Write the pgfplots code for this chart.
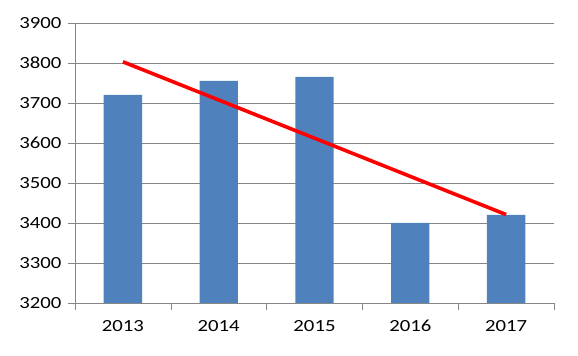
\documentclass[border=0pt]{standalone}
\usepackage{fontspec}
\setmainfont{Carlito}[FakeStretch=1.22]
\usepackage{pgfplots}
\pgfplotsset{compat=1.18}
\definecolor{barblue}{HTML}{4F81BD}
\definecolor{gridgray}{HTML}{868686}
\begin{document}
\begin{tikzpicture}
\begin{axis}[
  scale only axis,
  width=479bp, height=280bp,
  xmin=-0.5, xmax=4.5,
  ymin=3200, ymax=3900,
  ytick={3200,3300,...,3900},
  xtick={0,1,2,3,4},
  xticklabels={2013,2014,2015,2016,2017},
  minor xtick={-0.5,0.5,1.5,2.5,3.5,4.5},
  major x tick style={draw=none},
  tick align=outside,
  major tick length=7bp,
  minor tick length=7bp,
  axis x line*=bottom,
  axis y line*=left,
  axis line style={gridgray},
  every tick/.style={gridgray},
  ymajorgrids,
  major grid style={gridgray, line width=0.8pt},
  font=\fontsize{17bp}{20bp}\selectfont,
  ticklabel style={font=\fontsize{17bp}{20bp}\selectfont},
  yticklabel style={xshift=-3bp},
  xticklabel style={yshift=-7bp},
  /pgf/number format/assume math mode=true,
  /pgf/number format/1000 sep={},
  clip=false,
]
\addplot[ybar, bar width=0.4, fill=barblue, draw=none] coordinates {
  (0,3720) (1,3755) (2,3765) (3,3400) (4,3420)
};
\addplot[red, line width=3.6bp, no marks] coordinates {
  (0,3803) (4,3421)
};
\end{axis}
\path ([shift={(-75bp,-53bp)}]current axis.south west) rectangle ([shift={(24bp,23bp)}]current axis.north east);
\end{tikzpicture}
\end{document}
